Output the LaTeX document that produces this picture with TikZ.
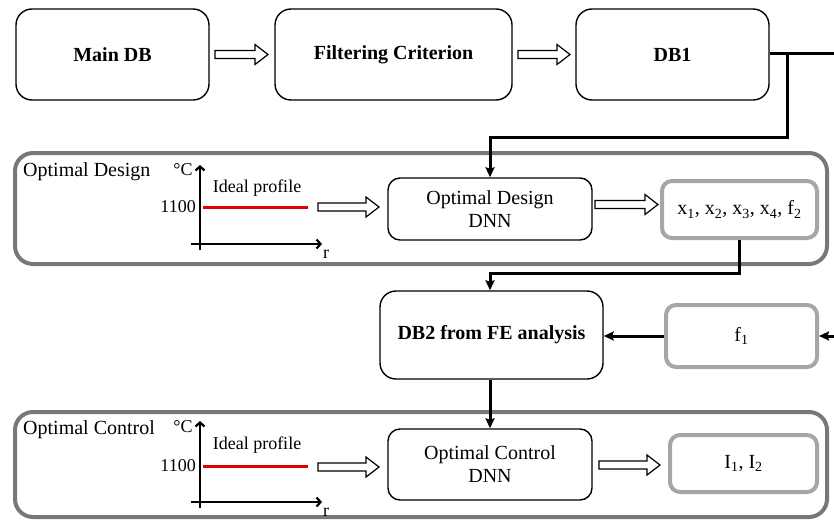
\documentclass[tikz,border=0pt]{standalone}
\usepackage{fontspec}
\setmainfont{Liberation Serif}
\usetikzlibrary{arrows.meta,calc}
\definecolor{grpgray}{RGB}{120,120,120}
\definecolor{outgray}{RGB}{166,166,166}
\definecolor{profred}{RGB}{225,0,0}
\begin{document}
\begin{tikzpicture}[x=1pt,y=-1pt,
 dbbox/.style={draw=black, line width=1.4pt, rounded corners=16pt, minimum height=91pt, inner sep=0pt, font=\fontsize{20}{24}\selectfont\bfseries},
 dnnbox/.style={draw, line width=1.4pt, rounded corners=12pt, minimum width=204pt, align=center, inner sep=0pt, font=\fontsize{20}{23}\selectfont},
 outbox/.style={draw=outgray, line width=4pt, rounded corners=10pt, inner sep=0pt, font=\fontsize{20}{24}\selectfont},
 group/.style={draw=grpgray, line width=4pt, rounded corners=18pt, inner sep=0pt, minimum width=812pt},
 pics/harrowpic/.style={code={\draw[line width=1.2pt, fill=white, line join=miter] (0,-4) -- ({#1-13},-4) -- ({#1-13},-10) -- (#1,0) -- ({#1-13},10) -- ({#1-13},4) -- (0,4) -- cycle;}},
 conn/.style={line width=3pt},
 tip/.style={-{Stealth[length=10pt,width=9pt,inset=1.5pt]}},
 axis/.style={line width=2.2pt, -{Straight Barb[length=4pt,width=9pt]}},
 lbl/.style={font=\fontsize{20}{24}\selectfont, inner sep=0pt},
 smalltxt/.style={font=\fontsize{18}{22}\selectfont, inner sep=0pt},
 profile/.style={draw=profred, line width=3pt},
]
\useasboundingbox (0,0) rectangle (834,519);

% top row
\node[dbbox, minimum width=193pt] (main) at (112.5,54.5) {Main DB};
\node[dbbox, minimum width=237pt] (filt) at (393.5,54.5) {Filtering Criterion};
\node[dbbox, minimum width=193pt] (db1) at (672.5,54.5) {DB1};
\pic (a1) at (215,54.5) {harrowpic=53};
\pic (a2) at (518,54.5) {harrowpic=52};

% groups
\node[group, minimum height=111pt] (odg) at (421,208.5) {};
\node[group, minimum height=105pt] (ocg) at (421,464.5) {};
\node[lbl, anchor=west] (odlbl) at (23,172) {Optimal Design};
\node[lbl, anchor=west] (oclbl) at (23,430) {Optimal Control};

% optimal design row
\node[dnnbox, minimum height=62pt] (oddnn) at (490,209) {Optimal Design\\DNN};
\node[outbox, minimum width=155pt, minimum height=57pt] (xbox) at (739.5,209.5) {x\textsubscript{1}, x\textsubscript{2}, x\textsubscript{3}, x\textsubscript{4}, f\textsubscript{2}};
\pic (a3) at (318,207) {harrowpic=61};
\pic (a4) at (595,204.5) {harrowpic=63};

% design profile plot
\coordinate (dy0) at (200,250);
\coordinate (dy1) at (200,165);
\coordinate (dx0) at (191,244);
\coordinate (dx1) at (322,244);
\draw[axis] (dy0) -- (dy1);
\draw[axis] (dx0) -- (dx1);
\coordinate (dr0) at (203,207);
\coordinate (dr1) at (308,207);
\draw[profile] (dr0) -- (dr1);
\node[smalltxt] (dunit) at (183,170) {°C};
\node[smalltxt, anchor=east] (dval) at (196,207) {1100};
\node[smalltxt] (dideal) at (257,188) {Ideal profile};
\node[smalltxt] (dr) at (326,254) {r};

% middle row
\node[dbbox, minimum width=223pt, minimum height=88pt] (db2) at (491.5,335) {DB2 from FE analysis};
\node[outbox, minimum width=151pt, minimum height=62pt] (f1) at (741.5,336) {f\textsubscript{1}};

% optimal control row
\node[dnnbox, minimum height=71pt] (ocdnn) at (490,464.5) {Optimal Control\\DNN};
\node[outbox, minimum width=147pt, minimum height=57pt] (ibox) at (743.5,463.5) {I\textsubscript{1}, I\textsubscript{2}};
\pic (a5) at (318,467) {harrowpic=61};
\pic (a6) at (599,465) {harrowpic=61};

% control profile plot
\coordinate (cy0) at (200,508);
\coordinate (cy1) at (200,421);
\coordinate (cx0) at (191,502);
\coordinate (cx1) at (322,502);
\draw[axis] (cy0) -- (cy1);
\draw[axis] (cx0) -- (cx1);
\coordinate (cr0) at (203,466);
\coordinate (cr1) at (308,466);
\draw[profile] (cr0) -- (cr1);
\node[smalltxt] (cunit) at (183,427) {°C};
\node[smalltxt, anchor=east] (cval) at (196,466) {1100};
\node[smalltxt] (cideal) at (257,445) {Ideal profile};
\node[smalltxt] (cr) at (326,512) {r};

% connectors
\coordinate (edge1) at (834,54);
\coordinate (br1) at (787,54);
\coordinate (k1) at (787,137);
\coordinate (k2) at (490,137);
\draw[conn] (db1.east |- edge1) -- (edge1);
\draw[conn, tip] (br1) -- (k1) -- (k2) -- (oddnn.north);

\coordinate (k3) at (739.5,273);
\coordinate (k4) at (490,273);
\draw[conn, tip] (xbox.south) -- (k3) -- (k4) -- (db2.north -| k4);

\draw[conn, tip] (f1.west) -- (db2.east |- f1.west);
\coordinate (edge2) at (834,336);
\draw[conn, tip] (edge2) -- (f1.east);
\draw[conn, tip] (db2.south -| ocdnn.north) -- (ocdnn.north);
\end{tikzpicture}
\end{document}
